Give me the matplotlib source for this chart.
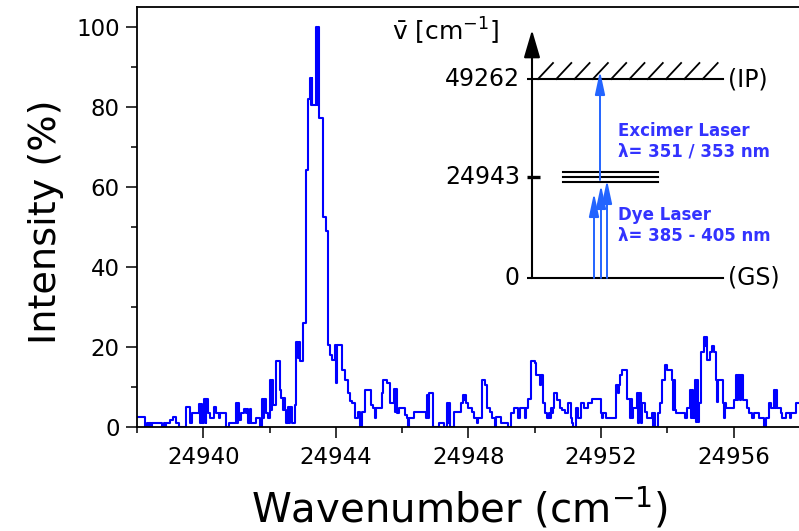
import matplotlib
matplotlib.use("Agg")
import matplotlib.pyplot as plt
import numpy as np
from matplotlib.ticker import MultipleLocator, ScalarFormatter

plt.rcParams['font.family'] = ['DejaVu Sans']
plt.rcParams['mathtext.fontset'] = 'dejavusans'

# ---- spectrum data: step start (cm-1) and intensity (%) ----
wn_edges = [
    24938.0, 24938.24, 24938.29, 24938.34, 24938.37, 24938.41, 24938.44, 24938.75, 24938.80, 24938.84,
    24938.88, 24939.0, 24939.1, 24939.17, 24939.28, 24939.48, 24939.59, 24939.66, 24939.86, 24939.90,
    24939.93, 24939.97, 24940.03, 24940.07, 24940.09, 24940.13, 24940.21, 24940.31, 24940.39, 24940.46,
    24940.51, 24940.67, 24940.77, 24941.0, 24941.03, 24941.06, 24941.09, 24941.14, 24941.24, 24941.28,
    24941.32, 24941.36, 24941.40, 24941.44, 24941.58, 24941.71, 24941.78, 24941.81, 24941.84, 24941.88,
    24941.95, 24942.0, 24942.03, 24942.06, 24942.1, 24942.2, 24942.3, 24942.35, 24942.39, 24942.43,
    24942.47, 24942.5, 24942.55, 24942.59, 24942.63, 24942.67, 24942.76, 24942.81, 24942.85, 24942.88,
    24942.91, 24943.01, 24943.09, 24943.16, 24943.21, 24943.24, 24943.27, 24943.29, 24943.39, 24943.42,
    24943.45, 24943.48, 24943.60, 24943.70, 24943.77, 24943.82, 24943.87, 24943.97, 24944.0, 24944.03,
    24944.19, 24944.27, 24944.35, 24944.42, 24944.5, 24944.58, 24944.68, 24944.72, 24944.8, 24944.88,
    24945.06, 24945.13, 24945.17, 24945.2, 24945.38, 24945.43, 24945.54, 24945.64, 24945.74, 24945.78,
    24945.81, 24945.84, 24945.9, 24946.07, 24946.15, 24946.19, 24946.22, 24946.36, 24946.71, 24946.76,
    24946.79, 24946.82, 24946.94, 24947.12, 24947.25, 24947.35, 24947.39, 24947.42, 24947.45, 24947.55,
    24947.78, 24947.83, 24947.87, 24947.9, 24947.93, 24948.0, 24948.1, 24948.18, 24948.26, 24948.29,
    24948.41, 24948.51, 24948.57, 24948.64, 24948.71, 24948.79, 24948.84, 24948.97, 24949.2, 24949.28,
    24949.38, 24949.48, 24949.55, 24949.69, 24949.72, 24949.79, 24949.9, 24950.0, 24950.05, 24950.17,
    24950.2, 24950.24, 24950.31, 24950.38, 24950.42, 24950.45, 24950.48, 24950.52, 24950.55, 24950.58,
    24950.67, 24950.75, 24950.82, 24950.92, 24951.0, 24951.08, 24951.12, 24951.16, 24951.23, 24951.3,
    24951.38, 24951.49, 24951.59, 24951.74, 24952.0, 24952.04, 24952.07, 24952.15, 24952.46, 24952.5,
    24952.53, 24952.56, 24952.64, 24952.77, 24952.88, 24952.91, 24952.94, 24952.97, 24953.08, 24953.12,
    24953.15, 24953.19, 24953.23, 24953.33, 24953.37, 24953.54, 24953.58, 24953.61, 24953.64, 24953.72,
    24953.77, 24953.84, 24953.92, 24954.0, 24954.14, 24954.18, 24954.21, 24954.24, 24954.27, 24954.52,
    24954.6, 24954.67, 24954.71, 24954.74, 24954.78, 24954.82, 24954.86, 24954.89, 24954.92, 24954.94,
    24955.0, 24955.1, 24955.14, 24955.17, 24955.2, 24955.27, 24955.34, 24955.42, 24955.47, 24955.51,
    24955.54, 24955.67, 24955.71, 24955.74, 24955.77, 24956.0, 24956.07, 24956.11, 24956.14, 24956.18,
    24956.21, 24956.27, 24956.4, 24956.47, 24956.54, 24956.62, 24956.77, 24956.9, 24956.97, 24957.07,
    24957.14, 24957.22, 24957.26, 24957.29, 24957.32, 24957.42, 24957.47, 24957.57, 24957.71, 24957.74,
    24957.87,
]
intensity = [
    2.4, 0, 0.9, 0, 0.9, 0, 0.9, 0, 0.9, 0,
    0.9, 1.7, 2.4, 0.9, 0, 4.9, 0.9, 3.6, 5.7, 0.9,
    5.7, 0.9, 7.1, 0.9, 7.1, 3.4, 2.2, 4.9, 3.6, 2.2,
    3.6, 0, 0.9, 5.9, 0.9, 5.9, 1.7, 3.4, 4.6, 3.4,
    4.6, 0.9, 4.6, 0.9, 2.2, 0, 7.1, 2.2, 7.1, 3.4,
    2.2, 11.75, 4.25, 11.75, 5.5, 16.6, 9.25, 7.2, 4.25, 7.2,
    4.25, 1.1, 5.1, 1.1, 5.1, 1.1, 5.5, 21.3, 17.25, 21.3,
    16.5, 25.9, 64.25, 82.0, 87.25, 80.6, 87.25, 80.6, 100, 80.6,
    100, 77.3, 52.4, 49.1, 20.5, 18.0, 16.75, 20.5, 10.9, 20.5,
    14.25, 11.75, 8.4, 6.5, 5.9, 2.2, 3.8, 0, 3.8, 9.25,
    5.5, 4.7, 2.2, 4.7, 8.4, 11.75, 10.9, 5.9, 9.4, 3.8,
    9.4, 3.6, 4.7, 3.0, 2.2, 0, 2.2, 3.8, 2.2, 8.0,
    2.2, 8.4, 0, 1.1, 0, 5.9, 1.1, 5.9, 0, 3.8,
    5.9, 8.0, 6.75, 8.0, 5.9, 4.7, 3.8, 2.2, 1.1, 2.2,
    11.75, 10.5, 4.7, 3.8, 2.2, 0, 2.4, 1.1, 0, 3.4,
    4.7, 2.2, 4.7, 2.2, 4.7, 6.9, 16.6, 15.9, 13.0, 10.5,
    13.0, 5.9, 3.4, 2.2, 3.4, 2.2, 4.7, 3.4, 4.7, 8.4,
    6.75, 4.7, 4.25, 3.4, 5.9, 2.2, 1.1, 0, 4.7, 2.2,
    5.9, 4.7, 5.9, 6.9, 3.4, 2.2, 3.4, 2.2, 10.5, 8.4,
    10.5, 13.0, 14.25, 6.9, 2.2, 6.9, 2.2, 4.7, 8.4, 1.1,
    8.4, 1.1, 5.9, 3.8, 2.2, 3.4, 0, 3.4, 0, 3.4,
    5.9, 11.75, 15.5, 14.25, 11.75, 4.25, 11.75, 4.25, 3.4, 2.2,
    4.7, 9.25, 2.2, 9.25, 2.2, 11.75, 1.3, 11.75, 1.3, 5.9,
    18.8, 22.6, 20.25, 22.6, 16.75, 18.8, 20.25, 18.8, 11.75, 6.3,
    11.75, 5.9, 2.2, 5.9, 4.7, 6.75, 13.0, 6.75, 13.0, 6.75,
    13.0, 6.75, 4.7, 3.4, 2.2, 3.4, 2.2, 0, 2.2, 5.9,
    4.7, 9.25, 4.7, 9.25, 4.7, 3.4, 2.2, 3.4, 2.2, 3.4,
    5.9,
]
wn_end = 24958.0

x_major = [24940, 24944, 24948, 24952, 24956]
y_major = [0, 20, 40, 60, 80, 100]

# ---- energy level scheme ----
level_values = [0, 24943, 49262]
level_labels = ['0', '24943', '49262']

fig = plt.figure(figsize=(7.99, 5.31), dpi=100)
W, H = 799, 531
ax = fig.add_axes([137 / W, 1 - 427 / H, (800 - 137) / W, (427 - 7) / H])

xs = list(wn_edges) + [wn_end]
ys = list(intensity) + [intensity[-1]]
ax.step(xs, ys, where='post', color='#0000FF', lw=1.5)

ax.set_xlim(24938, 24958)
ax.set_ylim(0, 105)
ax.set_xticks(x_major)
ax.set_yticks(y_major)
ax.xaxis.set_minor_locator(MultipleLocator(2))
ax.yaxis.set_minor_locator(MultipleLocator(10))
fmt = ScalarFormatter(useOffset=False)
ax.xaxis.set_major_formatter(fmt)
ax.tick_params(which='major', direction='out', length=8, width=1.1, labelsize=16.5, colors='black')
ax.tick_params(which='minor', direction='out', length=4, width=1.1)
ax.tick_params(axis='x', which='major', pad=5.5)
ax.tick_params(axis='y', which='major', pad=4.5)
for s in ax.spines.values():
    s.set_linewidth(1.3)

ax.set_xlabel('Wavenumber (cm$^{-1}$)', fontsize=29)
ax.set_ylabel('Intensity (%)', fontsize=27.5)
ax.xaxis.set_label_coords(0.486, -0.140)
ax.yaxis.set_label_coords(-0.110, 0.488)

# ---- inset energy diagram (diagram units: x in px from energy axis, y in cm-1) ----
k = (278 - 79) / level_values[2]  # px per cm-1
ax2 = fig.add_axes([380 / W, 1 - 295 / H, (799 - 380) / W, (295 - 15) / H])
ax2.set_xlim(380 - 532, 799 - 532)
ax2.set_ylim((278 - 295) / k, (278 - 15) / k)
ax2.set_axis_off()
ax2.patch.set_visible(False)

IP = level_values[2]
MID = level_values[1]
# energy axis with arrow
ax2.annotate('', xy=(0, (278 - 30) / k), xytext=(0, 0),
             arrowprops=dict(arrowstyle='-|>,head_length=1.7,head_width=0.5',
                             color='black', lw=1.5, shrinkA=0, shrinkB=0))
# ticks and labels
for v, lab in zip(level_values, level_labels):
    if v == MID:
        ax2.plot([-5, 8], [v, v], color='black', lw=2.4, solid_capstyle='butt')
    else:
        ax2.plot([-5, 0], [v, v], color='black', lw=1.5, solid_capstyle='butt')
    ax2.text(-12, v, lab, ha='right', va='center', fontsize=17, color='black')

# levels
ax2.plot([0, 191], [IP, IP], color='black', lw=1.5)
for x0 in np.arange(6, 180, 18.3):
    ax2.plot([x0, x0 + 15], [IP, IP + 16 / k], color='black', lw=1.3)
ax2.plot([0, 191], [0, 0], color='black', lw=1.5)
for d in (1300, 0, -1300):
    ax2.plot([31, 126], [MID + d, MID + d], color='black', lw=1.5)
ax2.text(196, IP, '(IP)', ha='left', va='center', fontsize=17)
ax2.text(196, 0, '(GS)', ha='left', va='center', fontsize=17)
ax2.text(-140, (278 - 31) / k, r'$\bar{\mathrm{v}}$ [cm$^{-1}$]', ha='left', va='center', fontsize=18)

# laser arrows
arrow_col = '#2364FF'
arr = dict(arrowstyle='-|>,head_length=1.4,head_width=0.3', color=arrow_col, lw=1.4,
           shrinkA=0, shrinkB=0)
dye_x = [62, 69, 75]
dye_tip = [(278 - 193) / k, (278 - 185) / k, (278 - 180) / k]
for xx, tip in zip(dye_x, dye_tip):
    ax2.annotate('', xy=(xx, tip), xytext=(xx, 0), arrowprops=arr)
ax2.annotate('', xy=(68, (278 - 71) / k), xytext=(68, (278 - 180) / k), arrowprops=arr)

txt_col = '#3333FF'
ax2.text(86, (278 - 131) / k, 'Excimer Laser', fontsize=12, fontweight='bold', color=txt_col,
         ha='left', va='center')
ax2.text(86, (278 - 151) / k, 'λ= 351 / 353 nm', fontsize=12, fontweight='bold', color=txt_col,
         ha='left', va='center')
ax2.text(86, (278 - 215) / k, 'Dye Laser', fontsize=12, fontweight='bold', color=txt_col,
         ha='left', va='center')
ax2.text(86, (278 - 236) / k, 'λ= 385 - 405 nm', fontsize=12, fontweight='bold', color=txt_col,
         ha='left', va='center')

fig.savefig('out.png', dpi=100)
